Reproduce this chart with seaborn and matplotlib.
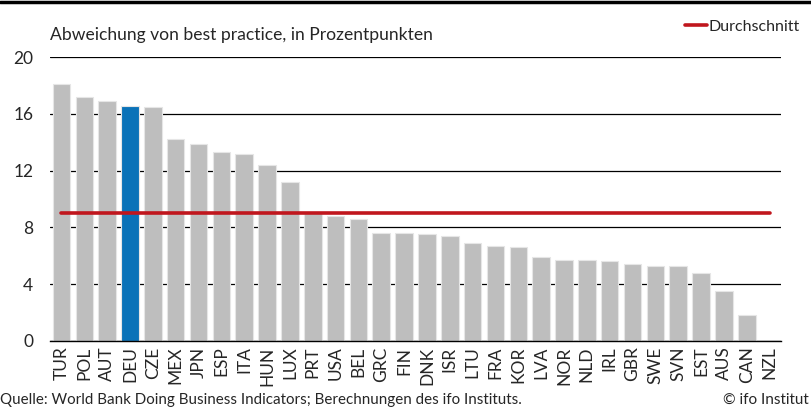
import matplotlib
matplotlib.use('Agg')
import matplotlib.pyplot as plt
import matplotlib.lines as mlines
import seaborn as sns
import pandas as pd

countries = ["TUR", "POL", "AUT", "DEU", "CZE", "MEX", "JPN", "ESP", "ITA", "HUN",
             "LUX", "PRT", "USA", "BEL", "GRC", "FIN", "DNK", "ISR", "LTU", "FRA",
             "KOR", "LVA", "NOR", "NLD", "IRL", "GBR", "SWE", "SVN", "EST", "AUS",
             "CAN", "NZL"]
values = [18.1, 17.2, 16.9, 16.55, 16.5, 14.2, 13.9, 13.3, 13.2, 12.4,
          11.2, 9.0, 8.8, 8.6, 7.6, 7.6, 7.5, 7.4, 6.9, 6.7,
          6.6, 5.9, 5.7, 5.7, 5.6, 5.4, 5.3, 5.3, 4.8, 3.5,
          1.8, 0.0]
average = 9.04
highlight = "DEU"

GREY = "#bebebe"
BLUE = "#0a72b8"
RED = "#c0161d"

sns.set_style("white")
plt.rcParams['font.family'] = ['Lato', 'DejaVu Sans']

df = pd.DataFrame({"land": countries, "wert": values})
palette = {c: (BLUE if c == highlight else GREY) for c in countries}

fig = plt.figure(figsize=(8.11, 4.09), dpi=100)
ax = fig.add_axes([0.0617, 0.1663, 0.9013, 0.6943])

sns.barplot(data=df, x="land", y="wert", hue="land", palette=palette,
            legend=False, width=0.77, saturation=1, ax=ax,
            edgecolor="#e6e6e6", linewidth=0.8, zorder=3)

# Durchschnitt from first to last bar centre
ax.plot(range(len(countries)), [average] * len(countries), color=RED, lw=2.6,
        zorder=4, solid_capstyle="round")

ax.set_ylim(0, 20)
ax.set_xlim(-0.5, len(countries) - 0.5)
ax.set_yticks([0, 4, 8, 12, 16, 20])
ax.yaxis.grid(True, color="black", lw=0.9)
ax.set_axisbelow(True)
ax.tick_params(axis="y", length=0, labelsize=12.5, pad=12)
ax.tick_params(axis="x", length=0, labelsize=12.5, rotation=90, pad=4)
ax.set_xlabel("")
ax.set_ylabel("")
for s in ["left", "right", "top"]:
    ax.spines[s].set_visible(False)
ax.spines["bottom"].set_color("black")
ax.spines["bottom"].set_linewidth(1.0)
ax.spines["bottom"].set_zorder(5)

fig.text(0.0617, 0.895, "Abweichung von best practice, in Prozentpunkten",
         fontsize=12.6, ha="left", va="bottom")

handle = mlines.Line2D([], [], color=RED, lw=2.6)
fig.legend([handle], ["Durchschnitt"], loc="upper right",
           bbox_to_anchor=(0.998, 0.975), frameon=False, fontsize=11.5,
           handlelength=1.4, handletextpad=0.1, borderaxespad=0.2)

fig.add_artist(mlines.Line2D([0, 1], [0.995, 0.995], color="black", lw=2.5,
                             transform=fig.transFigure))

fig.text(0.0, 0.005, "Quelle: World Bank Doing Business Indicators; Berechnungen des ifo Instituts.",
         fontsize=10.9, ha="left", va="bottom")
fig.text(0.997, 0.005, "\u00a9 ifo Institut", fontsize=11, ha="right", va="bottom")

fig.savefig("out.png", dpi=100)
plt.close(fig)
